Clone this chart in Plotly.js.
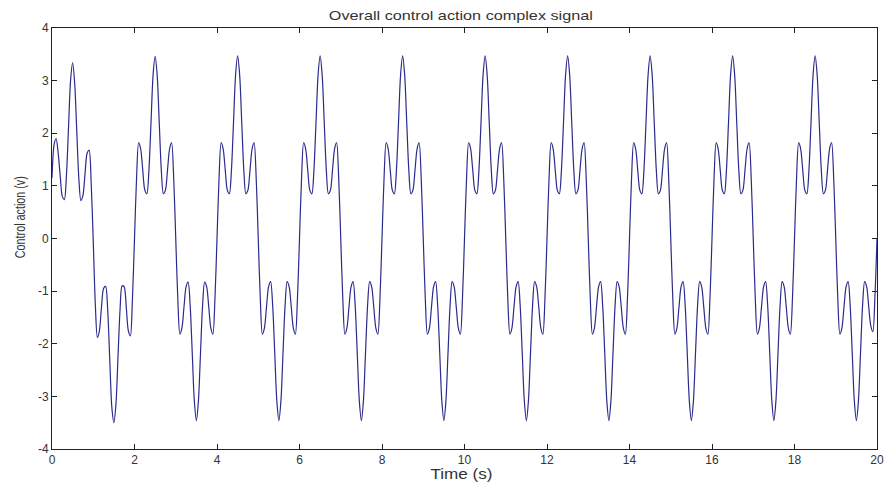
<!DOCTYPE html>
<html>
<head>
<meta charset="utf-8">
<script src="https://cdn.plot.ly/plotly-3.0.1.min.js"></script>
<style>html,body{margin:0;padding:0;background:#fff;}#chart{width:885px;height:487px;}</style>
</head>
<body>
<div id="chart"></div>
<script>
// sample spacing of the read values (s)
var sampleStep = 0.05;

// control action values, one array per 2 s period
var period1 = [1.15, 1.78, 1.90, 1.62, 1.18, 0.80, 0.74, 1.20, 2.10, 3.00, 3.34, 2.95, 2.05, 1.15, 0.72, 0.82, 1.22, 1.62, 1.68, 1.05,
               -0.05, -1.25, -1.88, -1.75, -1.30, -0.95, -0.91, -1.35, -2.30, -3.20, -3.50, -3.15, -2.25, -1.35, -0.90, -0.92, -1.30, -1.75, -1.85, -1.15];
var period2 = [0.00, 1.15, 1.82, 1.70, 1.30, 0.92, 0.85, 1.30, 2.20, 3.10, 3.46, 3.10, 2.20, 1.30, 0.85, 0.92, 1.30, 1.70, 1.82, 1.15,
               0.00, -1.15, -1.82, -1.70, -1.30, -0.92, -0.83, -1.28, -2.18, -3.08, -3.46, -3.08, -2.18, -1.28, -0.83, -0.92, -1.30, -1.70, -1.82, -1.15];
var period3 = [0.00, 1.15, 1.82, 1.70, 1.30, 0.92, 0.85, 1.30, 2.20, 3.10, 3.47, 3.10, 2.20, 1.30, 0.85, 0.92, 1.30, 1.70, 1.82, 1.15,
               0.00, -1.15, -1.82, -1.70, -1.30, -0.92, -0.82, -1.28, -2.18, -3.08, -3.46, -3.08, -2.18, -1.28, -0.82, -0.92, -1.30, -1.70, -1.82, -1.15];
var period4 = [0.00, 1.15, 1.82, 1.70, 1.30, 0.92, 0.85, 1.30, 2.20, 3.10, 3.47, 3.10, 2.20, 1.30, 0.85, 0.92, 1.30, 1.70, 1.82, 1.15,
               0.00, -1.15, -1.82, -1.70, -1.30, -0.92, -0.82, -1.28, -2.18, -3.08, -3.46, -3.08, -2.18, -1.28, -0.82, -0.92, -1.30, -1.70, -1.82, -1.15];
var period5 = [0.00, 1.15, 1.82, 1.70, 1.30, 0.92, 0.85, 1.30, 2.20, 3.10, 3.47, 3.10, 2.20, 1.30, 0.85, 0.92, 1.30, 1.70, 1.82, 1.15,
               0.00, -1.15, -1.82, -1.70, -1.30, -0.92, -0.82, -1.28, -2.18, -3.08, -3.46, -3.08, -2.18, -1.28, -0.82, -0.92, -1.30, -1.70, -1.82, -1.15];
var period6 = [0.00, 1.15, 1.82, 1.70, 1.30, 0.92, 0.85, 1.30, 2.20, 3.10, 3.47, 3.10, 2.20, 1.30, 0.85, 0.92, 1.30, 1.70, 1.82, 1.15,
               0.00, -1.15, -1.82, -1.70, -1.30, -0.92, -0.82, -1.28, -2.18, -3.08, -3.46, -3.08, -2.18, -1.28, -0.82, -0.92, -1.30, -1.70, -1.82, -1.15];
var period7 = [0.00, 1.15, 1.82, 1.70, 1.30, 0.92, 0.85, 1.30, 2.20, 3.10, 3.47, 3.10, 2.20, 1.30, 0.85, 0.92, 1.30, 1.70, 1.82, 1.15,
               0.00, -1.15, -1.82, -1.70, -1.30, -0.92, -0.82, -1.28, -2.18, -3.08, -3.46, -3.08, -2.18, -1.28, -0.82, -0.92, -1.30, -1.70, -1.82, -1.15];
var period8 = [0.00, 1.15, 1.82, 1.70, 1.30, 0.92, 0.85, 1.30, 2.20, 3.10, 3.47, 3.10, 2.20, 1.30, 0.85, 0.92, 1.30, 1.70, 1.82, 1.15,
               0.00, -1.15, -1.82, -1.70, -1.30, -0.92, -0.82, -1.28, -2.18, -3.08, -3.46, -3.08, -2.18, -1.28, -0.82, -0.92, -1.30, -1.70, -1.82, -1.15];
var period9 = [0.00, 1.15, 1.82, 1.70, 1.30, 0.92, 0.85, 1.30, 2.20, 3.10, 3.47, 3.10, 2.20, 1.30, 0.85, 0.92, 1.30, 1.70, 1.82, 1.15,
               0.00, -1.15, -1.82, -1.70, -1.30, -0.92, -0.82, -1.28, -2.18, -3.08, -3.46, -3.08, -2.18, -1.28, -0.82, -0.92, -1.30, -1.70, -1.82, -1.15];
var period10 = [0.00, 1.15, 1.82, 1.70, 1.30, 0.92, 0.85, 1.30, 2.20, 3.10, 3.47, 3.10, 2.20, 1.30, 0.85, 0.92, 1.30, 1.70, 1.82, 1.15,
               0.00, -1.15, -1.82, -1.70, -1.30, -0.92, -0.82, -1.28, -2.18, -3.08, -3.46, -3.08, -2.18, -1.28, -0.82, -0.92, -1.30, -1.66, -1.77, -1.10,
               0.00];

var xTicks = [0, 2, 4, 6, 8, 10, 12, 14, 16, 18, 20];
var yTicks = [-4, -3, -2, -1, 0, 1, 2, 3, 4];

var titleText = 'Overall control action complex signal';
var xTitleText = 'Time (s)';
var yTitleText = 'Control action (v)';

var controlAction = [].concat(period1, period2, period3, period4, period5, period6, period7, period8, period9, period10);
var timeS = controlAction.map(function (v, i) { return +(i * sampleStep).toFixed(2); });

var txt = '#333333';
var fontFam = 'Liberation Sans, Arial, sans-serif';

var trace = {
  x: timeS,
  y: controlAction,
  type: 'scatter',
  mode: 'lines',
  line: {color: '#2b2b8c', width: 1.2, shape: 'spline', smoothing: 0.8},
  hoverinfo: 'skip',
  showlegend: false
};

var axisCommon = {
  showgrid: false,
  zeroline: false,
  showline: true,
  mirror: 'ticks',
  linecolor: '#222222',
  linewidth: 1,
  ticks: 'inside',
  ticklen: 5,
  tickcolor: '#222222',
  tickfont: {family: fontFam, size: 12, color: txt}
};

var layout = {
  width: 885,
  height: 487,
  margin: {l: 52, r: 8, t: 28, b: 38},
  paper_bgcolor: '#ffffff',
  plot_bgcolor: '#ffffff',
  xaxis: Object.assign({}, axisCommon, {range: [0, 20], tickvals: xTicks, ticktext: xTicks.map(String)}),
  yaxis: Object.assign({}, axisCommon, {range: [-4, 4], tickvals: yTicks, ticktext: yTicks.map(String)}),
  annotations: [
    {text: titleText, xref: 'paper', yref: 'paper', x: 0.496, y: 1.03, xanchor: 'center', yanchor: 'middle',
     showarrow: false, font: {family: fontFam, size: 13, color: txt}},
    {text: xTitleText, xref: 'paper', yref: 'paper', x: 0.496, y: -0.06, xanchor: 'center', yanchor: 'middle',
     showarrow: false, font: {family: fontFam, size: 14, color: txt}},
    {text: yTitleText, xref: 'paper', yref: 'paper', x: -0.039, y: 0.55, xanchor: 'center', yanchor: 'middle',
     textangle: -90, showarrow: false, font: {family: fontFam, size: 15, color: txt}}
  ]
};

Plotly.newPlot('chart', [trace], layout, {displayModeBar: false, staticPlot: true}).then(function (gd) {
  // match the stretched lettering of the reference image
  var lengths = [264, 62, 82];
  var texts = gd.querySelectorAll('.annotation-text');
  texts.forEach(function (el, i) {
    if (lengths[i]) {
      el.setAttribute('textLength', lengths[i]);
      el.setAttribute('lengthAdjust', 'spacingAndGlyphs');
    }
  });
});
</script>
</body>
</html>
